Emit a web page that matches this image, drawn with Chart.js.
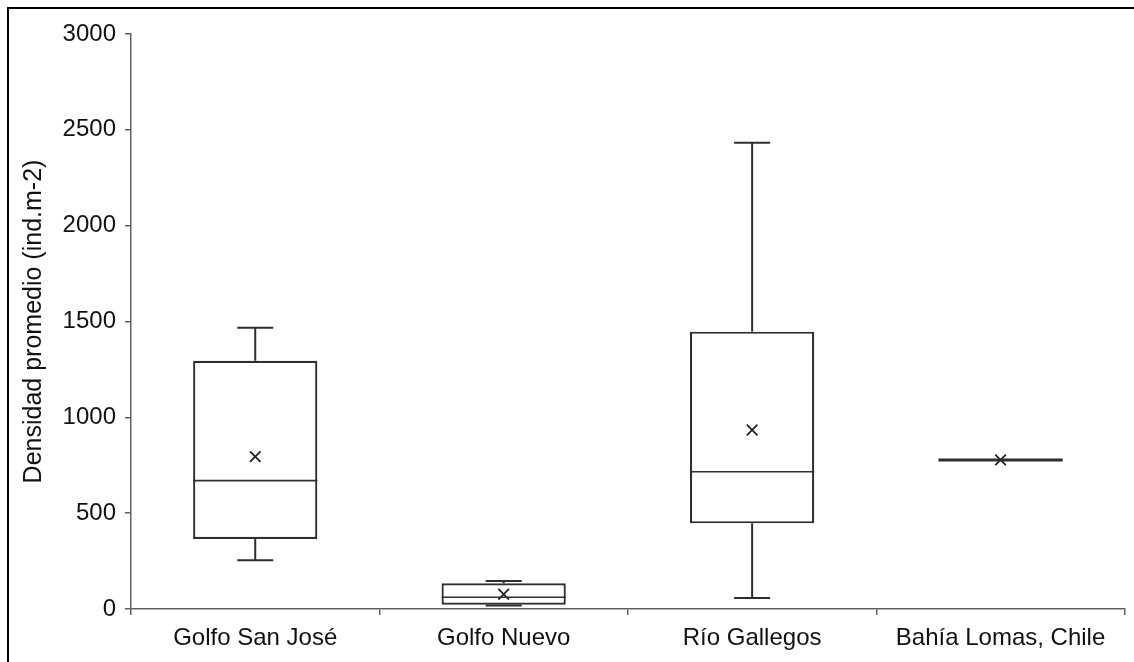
<!DOCTYPE html>
<html>
<head>
<meta charset="utf-8">
<script src="https://cdn.jsdelivr.net/npm/chart.js@4/dist/chart.umd.min.js"></script>
<style>
  html, body { margin: 0; padding: 0; background: #fff; width: 1134px; height: 662px; overflow: hidden; }
  #marco { position: absolute; left: 7px; top: 7px; width: 1300px; height: 800px;
           border-left: 2px solid #000; border-top: 2px solid #000; box-sizing: border-box; }
  #lienzo { position: absolute; left: 0; top: 0; }
</style>
</head>
<body>
<div id="marco"></div>
<canvas id="lienzo" width="1134" height="662"></canvas>
<script>
// Densidad promedio por sitio (ind.m-2): resumen de cada caja
const categorias = ['Golfo San José', 'Golfo Nuevo', 'Río Gallegos', 'Bahía Lomas, Chile'];
const minimo  = [255,  18,   58, 778];
const q1      = [365,  22,  447, 778];
const mediana = [670,  61,  716, 778];
const q3      = [1295, 134, 1447, 778];
const maximo  = [1468, 146, 2433, 778];
const media   = [795,  77,  934, 778];
const marcasY = [0, 500, 1000, 1500, 2000, 2500, 3000];

const FUENTE = 'Liberation Sans, Arial, sans-serif';
const TRAZO = '#2e2e2e';
const EJE = '#606060';
const TEXTO = '#111111';

// Bigotes, topes y mediana de cada caja, ubicados con las escalas del gráfico
const bigotes = {
  id: 'bigotes',
  afterDatasetsDraw(chart) {
    const meta = chart.getDatasetMeta(0);
    const ey = chart.scales.y;
    const ctx = chart.ctx;
    const py = v => ey.getPixelForValue(v);
    const linea = (x1, y1, x2, y2, w) => {
      ctx.lineWidth = w;
      ctx.beginPath();
      ctx.moveTo(x1, y1);
      ctx.lineTo(x2, y2);
      ctx.stroke();
    };
    ctx.save();
    ctx.strokeStyle = TRAZO;
    ctx.lineCap = 'butt';
    meta.data.forEach((barra, i) => {
      const { x, width } = barra.getProps(['x', 'width'], true);
      const medio = width / 2;
      const tope = width * 0.145;
      linea(x, py(q3[i]), x, py(maximo[i]), 2);
      linea(x, py(q1[i]), x, py(minimo[i]), 2);
      linea(x - tope, py(maximo[i]), x + tope, py(maximo[i]), 2);
      linea(x - tope, py(minimo[i]), x + tope, py(minimo[i]), 2);
      // una caja sin altura queda como su contorno colapsado en una sola línea
      const colapsada = q1[i] === q3[i];
      linea(x - medio, py(mediana[i]), x + medio, py(mediana[i]), colapsada ? 3 : 1.6);
    });
    ctx.restore();
  }
};

new Chart(document.getElementById('lienzo'), {
  type: 'bar',
  data: {
    labels: categorias,
    datasets: [
      {
        type: 'bar',
        data: q1.map((v, i) => [v, q3[i]]),
        backgroundColor: '#ffffff',
        borderColor: TRAZO,
        borderWidth: 2.2,
        borderSkipped: false,
        categoryPercentage: 1,
        barPercentage: 0.5,
        order: 2
      },
      {
        type: 'line',
        data: media,
        showLine: false,
        pointStyle: 'crossRot',
        pointRadius: 7.5,
        pointBorderWidth: 1.7,
        pointBorderColor: '#1e1e1e',
        pointBackgroundColor: '#1e1e1e',
        order: 1
      }
    ]
  },
  options: {
    responsive: false,
    animation: false,
    layout: { padding: { top: 34, right: 9, left: 0, bottom: 0 } },
    plugins: { legend: { display: false }, tooltip: { enabled: false } },
    scales: {
      x: {
        offset: true,
        grid: { offset: true, drawOnChartArea: false, drawTicks: true, tickLength: 6, color: EJE, lineWidth: 1.5 },
        border: { display: true, color: EJE, width: 1.5 },
        ticks: { color: TEXTO, font: { family: FUENTE, size: 24 }, padding: 9, maxRotation: 0 },
        afterFit(s) { s.height = 53; }
      },
      y: {
        min: 0,
        max: 3000,
        afterBuildTicks(s) { s.ticks = marcasY.map(v => ({ value: v })); },
        grid: { drawOnChartArea: false, drawTicks: true, tickLength: 6, color: EJE, lineWidth: 1.5 },
        border: { display: true, color: EJE, width: 1.5 },
        ticks: {
          color: TEXTO,
          font: { family: FUENTE, size: 24 },
          padding: 9,
          callback: v => String(v)
        },
        title: {
          display: true,
          text: 'Densidad promedio (ind.m-2)',
          color: TEXTO,
          font: { family: FUENTE, size: 25 },
          padding: { top: 19, bottom: 0 }
        },
        afterFit(s) { s.width = 131; }
      }
    }
  },
  plugins: [bigotes]
});
</script>
</body>
</html>
